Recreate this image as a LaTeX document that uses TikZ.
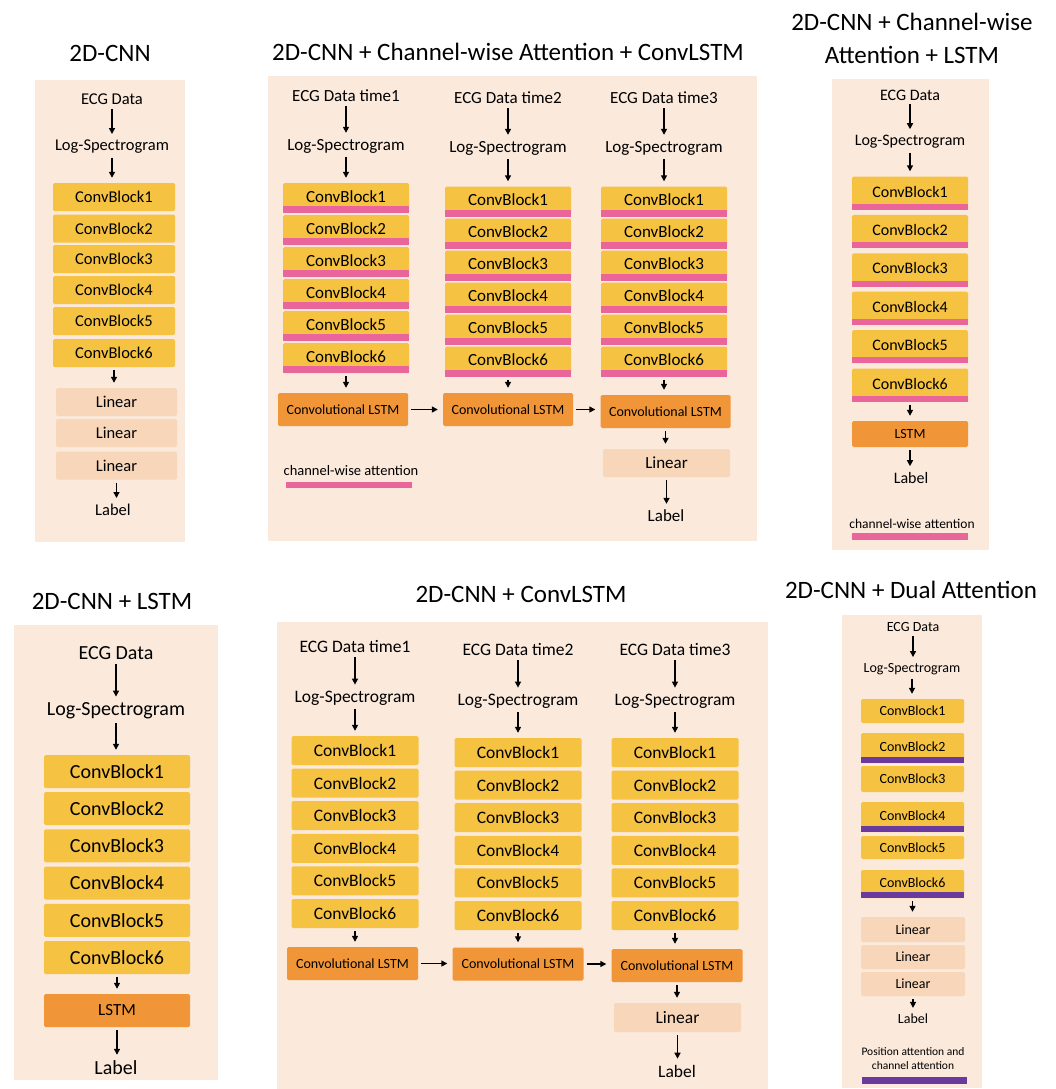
\documentclass[tikz,border=0pt]{standalone}
\usepackage{fontspec}
\setmainfont{Carlito}
\usetikzlibrary{arrows.meta}
\newcommand{\myfs}[1]{\fontsize{#1}{#1}\selectfont}
\definecolor{bgc}{HTML}{FBE9DC}
\definecolor{yel}{HTML}{F5C242}
\definecolor{org}{HTML}{F09638}
\definecolor{lin}{HTML}{F7D6BA}
\definecolor{pnk}{HTML}{EA6599}
\definecolor{pur}{HTML}{6B3A9E}
\tikzset{
  blk/.style={fill=yel, rounded corners=1.5pt, inner sep=0pt},
  lstmb/.style={fill=org, rounded corners=1.5pt, inner sep=0pt},
  linb/.style={fill=lin, rounded corners=1.5pt, inner sep=0pt},
  txt/.style={inner sep=1pt},
  ttl/.style={inner sep=0pt, font=\fontsize{25}{33}\selectfont, align=center},
  arr/.style={-{Triangle[length=6pt,width=6pt]}, line width=1.4pt, shorten <=3pt, shorten >=5pt}
}
\begin{document}
\begin{tikzpicture}[x=1pt,y=-1pt]
\useasboundingbox (0,0) rectangle (1056,1089);

% ---------- Panel 1: 2D-CNN ----------
\fill[bgc] (35,80) rectangle (185,542);
\node[ttl] (t1) at (110,53) {2D-CNN};
\node[txt,font=\myfs{16.5}] (p1e) at (112,99) {ECG Data};
\node[txt,font=\myfs{16.5}] (p1l) at (112,147) {Log-Spectrogram};
\foreach \i/\y in {1/197,2/228.5,3/259,4/290,5/321,6/353}
  \node[blk,minimum width=122pt,minimum height=28pt,font=\myfs{16.5}] (p1c\i) at (114,\y) {ConvBlock\i};
\foreach \i/\y in {1/402,2/433,3/465.5}
  \node[linb,minimum width=121pt,minimum height=28pt,font=\myfs{16.5}] (p1n\i) at (116.5,\y) {Linear};
\node[txt,font=\myfs{16.5}] (p1o) at (113,510) {Label};
\draw[arr] (p1e) -- (p1e |- p1l.north);
\draw[arr] (p1l) -- (p1l |- p1c1.north);
\draw[arr] (p1c6) -- (p1c6 |- p1n1.north);
\draw[arr] (p1n3) -- (p1n3 |- p1o.north);

% ---------- Panel 2: 2D-CNN + Channel-wise Attention + ConvLSTM ----------
\fill[bgc] (268,76) rectangle (757,541);
\node[ttl] (t2) at (508,52) {2D-CNN + Channel-wise Attention + ConvLSTM};
\foreach \c/\x/\ye/\yl/\yc in {1/346/96/146/198,2/508/98/148/201.5,3/664/98/148/201.5}{
  \node[txt,font=\myfs{17}] (p2e\c) at (\x,\ye) {ECG Data time\c};
  \node[txt,font=\myfs{17}] (p2l\c) at (\x,\yl) {Log-Spectrogram};
  \foreach \i in {1,...,6}{
    \node[blk,minimum width=126pt,minimum height=30pt,font=\myfs{17}] (p2c\c\i) at (\x,{\yc+(\i-1)*32}) {\raisebox{3pt}{ConvBlock\i}};
    \fill[pnk] ([yshift=7pt]p2c\c\i.south west) rectangle (p2c\c\i.south east);
  }
  \draw[arr] (p2e\c) -- (p2e\c |- p2l\c.north);
  \draw[arr] (p2l\c) -- (p2l\c |- p2c\c1.north);
}
\node[lstmb,minimum width=130pt,minimum height=33pt,font=\myfs{14}] (p2s1) at (343,409.5) {Convolutional LSTM};
\node[lstmb,minimum width=130pt,minimum height=33pt,font=\myfs{14}] (p2s2) at (508,409.5) {Convolutional LSTM};
\node[lstmb,minimum width=130pt,minimum height=33pt,font=\myfs{14}] (p2s3) at (665.5,411.5) {Convolutional LSTM};
\draw[arr] (p2c16) -- (p2c16 |- p2s1.north);
\draw[arr] (p2c26) -- (p2c26 |- p2s2.north);
\draw[arr] (p2c36) -- (p2c36 |- p2s3.north);
\draw[arr] (p2s1) -- (p2s2);
\draw[arr] (p2s2) -- (p2s2 -| p2s3.west);
\node[linb,minimum width=127pt,minimum height=28pt,font=\myfs{17}] (p2n) at (666.5,463) {Linear};
\node[txt,font=\myfs{17}] (p2o) at (666,516) {Label};
\draw[arr] (p2s3) -- (p2s3 |- p2n.north);
\draw[arr] (p2n) -- (p2n |- p2o.north);
\node[txt,font=\myfs{14.5}] (p2k) at (351,471) {channel-wise attention};
\fill[pnk] (286,482) rectangle (412,488);

% ---------- Panel 3: 2D-CNN + Channel-wise Attention + LSTM ----------
\fill[bgc] (832,79) rectangle (989,550);
\node[ttl] (t3) at (912,38) {2D-CNN + Channel-wise\\Attention + LSTM};
\node[txt,font=\myfs{16}] (p3e) at (910,95) {ECG Data};
\node[txt,font=\myfs{16}] (p3l) at (910,142) {Log-Spectrogram};
\foreach \i in {1,...,6}{
  \node[blk,minimum width=116pt,minimum height=33pt,font=\myfs{16}] (p3c\i) at (910,{193+(\i-1)*38.4}) {\raisebox{3pt}{ConvBlock\i}};
  \fill[pnk] ([yshift=6pt]p3c\i.south west) rectangle (p3c\i.south east);
}
\node[lstmb,minimum width=116pt,minimum height=26pt,font=\myfs{14}] (p3s) at (910,434) {LSTM};
\node[txt,font=\myfs{16}] (p3o) at (911,478) {Label};
\draw[arr] (p3e) -- (p3e |- p3l.north);
\draw[arr] (p3l) -- (p3l |- p3c1.north);
\draw[arr] (p3c6) -- (p3c6 |- p3s.north);
\draw[arr] (p3s) -- (p3s |- p3o.north);
\node[txt,font=\myfs{13.5}] (p3k) at (912,524) {channel-wise attention};
\fill[pnk] (852,533) rectangle (968,540);

% ---------- Panel 4: 2D-CNN + LSTM ----------
\fill[bgc] (14,625) rectangle (218,1080);
\node[ttl] (t4) at (112,601) {2D-CNN + LSTM};
\node[txt,font=\myfs{20}] (p4e) at (116,653) {ECG Data};
\node[txt,font=\myfs{20}] (p4l) at (116,711) {Log-Spectrogram};
\foreach \i in {1,...,6}
  \node[blk,minimum width=146pt,minimum height=33pt,font=\myfs{20}] (p4c\i) at (117,{771.5+(\i-1)*37.2}) {ConvBlock\i};
\node[lstmb,minimum width=146pt,minimum height=33pt,font=\myfs{17}] (p4s) at (117,1010.5) {LSTM};
\node[txt,font=\myfs{20}] (p4o) at (116,1068) {Label};
\draw[arr] (p4e) -- (p4e |- p4l.north);
\draw[arr] (p4l) -- (p4l |- p4c1.north);
\draw[arr] (p4c6) -- (p4c6 |- p4s.north);
\draw[arr] (p4s) -- (p4s |- p4o.north);

% ---------- Panel 5: 2D-CNN + ConvLSTM ----------
\fill[bgc] (277,622) rectangle (768,1089);
\node[ttl] (t5) at (521,594) {2D-CNN + ConvLSTM};
\foreach \c/\x/\ye/\yl/\yc in {1/355/647/698/750.5,2/518/650/701/752.5,3/675/650/701/752.5}{
  \node[txt,font=\myfs{17.5}] (p5e\c) at (\x,\ye) {ECG Data time\c};
  \node[txt,font=\myfs{17.5}] (p5l\c) at (\x,\yl) {Log-Spectrogram};
  \foreach \i in {1,...,6}
    \node[blk,minimum width=127pt,minimum height=29pt,font=\myfs{17.5}] (p5c\c\i) at (\x,{\yc+(\i-1)*32.6}) {ConvBlock\i};
  \draw[arr] (p5e\c) -- (p5e\c |- p5l\c.north);
  \draw[arr] (p5l\c) -- (p5l\c |- p5c\c1.north);
}
\node[lstmb,minimum width=131pt,minimum height=33pt,font=\myfs{14}] (p5s1) at (352.5,963.5) {Convolutional LSTM};
\node[lstmb,minimum width=131pt,minimum height=33pt,font=\myfs{14}] (p5s2) at (518,964) {Convolutional LSTM};
\node[lstmb,minimum width=131pt,minimum height=33pt,font=\myfs{14}] (p5s3) at (677,965.5) {Convolutional LSTM};
\draw[arr] (p5c16) -- (p5c16 |- p5s1.north);
\draw[arr] (p5c26) -- (p5c26 |- p5s2.north);
\draw[arr] (p5c36) -- (p5c36 |- p5s3.north);
\draw[arr] (p5s1) -- (p5s1 -| p5s2.west);
\draw[arr] (p5s2) -- (p5s2 -| p5s3.west);
\node[linb,minimum width=127pt,minimum height=29pt,font=\myfs{17.5}] (p5n) at (677.5,1017.5) {Linear};
\node[txt,font=\myfs{17.5}] (p5o) at (677,1071) {Label};
\draw[arr] (p5s3) -- (p5s3 |- p5n.north);
\draw[arr] (p5n) -- (p5n |- p5o.north);

% ---------- Panel 6: 2D-CNN + Dual Attention ----------
\fill[bgc] (842,615) rectangle (982,1088);
\node[ttl] (t6) at (911,590) {2D-CNN + Dual Attention};
\node[txt,font=\myfs{14}] (p6e) at (913,627) {ECG Data};
\node[txt,font=\myfs{14}] (p6l) at (912,669) {Log-Spectrogram};
\foreach \i/\y/\h in {1/711/24,3/779/26,5/847.5/23}
  \node[blk,minimum width=103pt,minimum height=\h pt,font=\myfs{14}] (p6c\i) at (912.5,\y) {ConvBlock\i};
\foreach \i/\y/\h in {2/748/30,4/817/30,6/884/28}{
  \node[blk,minimum width=103pt,minimum height=\h pt,font=\myfs{14}] (p6c\i) at (912.5,\y) {\raisebox{3pt}{ConvBlock\i}};
  \fill[pur] ([yshift=6pt]p6c\i.south west) rectangle (p6c\i.south east);
}
\foreach \i/\y/\h in {1/929.5/25,2/957/24,3/984/24}
  \node[linb,minimum width=104pt,minimum height=\h pt,font=\myfs{14}] (p6n\i) at (913,\y) {Linear};
\node[txt,font=\myfs{14}] (p6o) at (913,1019) {Label};
\draw[arr] (p6e) -- (p6e |- p6l.north);
\draw[arr] (p6l) -- (p6l |- p6c1.north);
\draw[arr] (p6c6) -- (p6c6 |- p6n1.north);
\draw[arr] (p6n3) -- (p6n3 |- p6o.north);
\node[txt,font=\fontsize{11.5}{14}\selectfont,align=center] (p6k) at (913,1059) {Position attention and\\channel attention};
\fill[pur] (862,1077) rectangle (967,1084);
\end{tikzpicture}
\end{document}
